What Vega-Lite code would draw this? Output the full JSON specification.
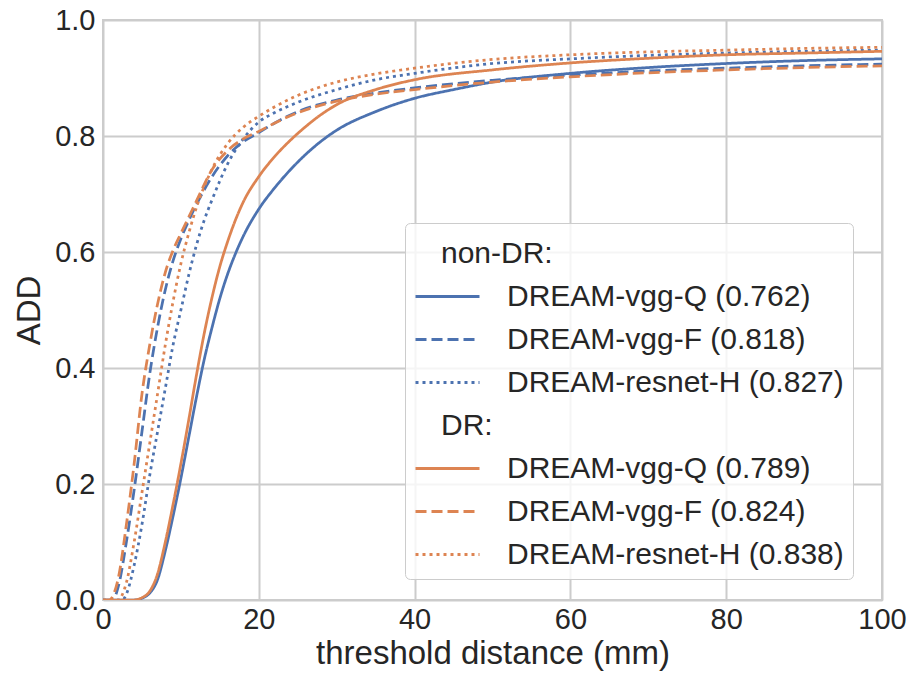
{
  "$schema": "https://vega.github.io/schema/vega-lite/v6.json",
  "autosize": "none",
  "width": 779,
  "height": 580,
  "padding": {"left": 103, "top": 20, "right": 27, "bottom": 75},
  "background": "white",
  "config": {
    "font": "Liberation Sans",
    "view": {"stroke": "#cccccc", "strokeWidth": 2},
    "axis": {"labelColor": "#262626", "titleColor": "#262626", "labelFont": "Liberation Sans", "titleFont": "Liberation Sans", "titleFontWeight": "normal", "grid": true, "gridColor": "#cccccc", "gridWidth": 2, "domain": false, "ticks": false, "labelFontSize": 29, "titleFontSize": 33, "labelOverlap": false, "labelFlush": false}
  },
  "data": {"values": [
    {"series": "DREAM-vgg-Q (0.762)", "x": 0, "y": 0},
    {"series": "DREAM-vgg-Q (0.762)", "x": 4, "y": 0},
    {"series": "DREAM-vgg-Q (0.762)", "x": 5, "y": 0.003},
    {"series": "DREAM-vgg-Q (0.762)", "x": 6, "y": 0.012},
    {"series": "DREAM-vgg-Q (0.762)", "x": 7, "y": 0.035},
    {"series": "DREAM-vgg-Q (0.762)", "x": 8, "y": 0.085},
    {"series": "DREAM-vgg-Q (0.762)", "x": 9, "y": 0.145},
    {"series": "DREAM-vgg-Q (0.762)", "x": 10, "y": 0.21},
    {"series": "DREAM-vgg-Q (0.762)", "x": 11, "y": 0.28},
    {"series": "DREAM-vgg-Q (0.762)", "x": 12, "y": 0.35},
    {"series": "DREAM-vgg-Q (0.762)", "x": 13, "y": 0.415},
    {"series": "DREAM-vgg-Q (0.762)", "x": 14, "y": 0.47},
    {"series": "DREAM-vgg-Q (0.762)", "x": 15, "y": 0.52},
    {"series": "DREAM-vgg-Q (0.762)", "x": 16, "y": 0.562},
    {"series": "DREAM-vgg-Q (0.762)", "x": 17, "y": 0.597},
    {"series": "DREAM-vgg-Q (0.762)", "x": 18, "y": 0.627},
    {"series": "DREAM-vgg-Q (0.762)", "x": 20, "y": 0.674},
    {"series": "DREAM-vgg-Q (0.762)", "x": 22, "y": 0.71},
    {"series": "DREAM-vgg-Q (0.762)", "x": 24, "y": 0.741},
    {"series": "DREAM-vgg-Q (0.762)", "x": 26, "y": 0.768},
    {"series": "DREAM-vgg-Q (0.762)", "x": 28, "y": 0.791},
    {"series": "DREAM-vgg-Q (0.762)", "x": 30, "y": 0.81},
    {"series": "DREAM-vgg-Q (0.762)", "x": 35, "y": 0.842},
    {"series": "DREAM-vgg-Q (0.762)", "x": 40, "y": 0.865},
    {"series": "DREAM-vgg-Q (0.762)", "x": 45, "y": 0.88},
    {"series": "DREAM-vgg-Q (0.762)", "x": 50, "y": 0.893},
    {"series": "DREAM-vgg-Q (0.762)", "x": 60, "y": 0.908},
    {"series": "DREAM-vgg-Q (0.762)", "x": 70, "y": 0.918},
    {"series": "DREAM-vgg-Q (0.762)", "x": 80, "y": 0.925},
    {"series": "DREAM-vgg-Q (0.762)", "x": 90, "y": 0.93},
    {"series": "DREAM-vgg-Q (0.762)", "x": 100, "y": 0.933},

    {"series": "DREAM-vgg-F (0.818)", "x": 0, "y": 0},
    {"series": "DREAM-vgg-F (0.818)", "x": 1, "y": 0},
    {"series": "DREAM-vgg-F (0.818)", "x": 1.5, "y": 0.005},
    {"series": "DREAM-vgg-F (0.818)", "x": 2, "y": 0.025},
    {"series": "DREAM-vgg-F (0.818)", "x": 3, "y": 0.1},
    {"series": "DREAM-vgg-F (0.818)", "x": 4, "y": 0.19},
    {"series": "DREAM-vgg-F (0.818)", "x": 5, "y": 0.29},
    {"series": "DREAM-vgg-F (0.818)", "x": 6, "y": 0.39},
    {"series": "DREAM-vgg-F (0.818)", "x": 7, "y": 0.47},
    {"series": "DREAM-vgg-F (0.818)", "x": 8, "y": 0.535},
    {"series": "DREAM-vgg-F (0.818)", "x": 9, "y": 0.585},
    {"series": "DREAM-vgg-F (0.818)", "x": 10, "y": 0.623},
    {"series": "DREAM-vgg-F (0.818)", "x": 11, "y": 0.654},
    {"series": "DREAM-vgg-F (0.818)", "x": 12, "y": 0.682},
    {"series": "DREAM-vgg-F (0.818)", "x": 14, "y": 0.73},
    {"series": "DREAM-vgg-F (0.818)", "x": 16, "y": 0.766},
    {"series": "DREAM-vgg-F (0.818)", "x": 18, "y": 0.79},
    {"series": "DREAM-vgg-F (0.818)", "x": 20, "y": 0.806},
    {"series": "DREAM-vgg-F (0.818)", "x": 22, "y": 0.822},
    {"series": "DREAM-vgg-F (0.818)", "x": 25, "y": 0.842},
    {"series": "DREAM-vgg-F (0.818)", "x": 30, "y": 0.862},
    {"series": "DREAM-vgg-F (0.818)", "x": 35, "y": 0.874},
    {"series": "DREAM-vgg-F (0.818)", "x": 40, "y": 0.883},
    {"series": "DREAM-vgg-F (0.818)", "x": 50, "y": 0.896},
    {"series": "DREAM-vgg-F (0.818)", "x": 60, "y": 0.905},
    {"series": "DREAM-vgg-F (0.818)", "x": 70, "y": 0.912},
    {"series": "DREAM-vgg-F (0.818)", "x": 80, "y": 0.917},
    {"series": "DREAM-vgg-F (0.818)", "x": 90, "y": 0.921},
    {"series": "DREAM-vgg-F (0.818)", "x": 100, "y": 0.924},

    {"series": "DREAM-resnet-H (0.827)", "x": 0, "y": 0},
    {"series": "DREAM-resnet-H (0.827)", "x": 2.5, "y": 0},
    {"series": "DREAM-resnet-H (0.827)", "x": 3, "y": 0.01},
    {"series": "DREAM-resnet-H (0.827)", "x": 4, "y": 0.06},
    {"series": "DREAM-resnet-H (0.827)", "x": 5, "y": 0.13},
    {"series": "DREAM-resnet-H (0.827)", "x": 6, "y": 0.215},
    {"series": "DREAM-resnet-H (0.827)", "x": 7, "y": 0.29},
    {"series": "DREAM-resnet-H (0.827)", "x": 8, "y": 0.365},
    {"series": "DREAM-resnet-H (0.827)", "x": 9, "y": 0.44},
    {"series": "DREAM-resnet-H (0.827)", "x": 10, "y": 0.5},
    {"series": "DREAM-resnet-H (0.827)", "x": 11, "y": 0.56},
    {"series": "DREAM-resnet-H (0.827)", "x": 12, "y": 0.612},
    {"series": "DREAM-resnet-H (0.827)", "x": 13, "y": 0.655},
    {"series": "DREAM-resnet-H (0.827)", "x": 14, "y": 0.69},
    {"series": "DREAM-resnet-H (0.827)", "x": 16, "y": 0.752},
    {"series": "DREAM-resnet-H (0.827)", "x": 18, "y": 0.795},
    {"series": "DREAM-resnet-H (0.827)", "x": 20, "y": 0.824},
    {"series": "DREAM-resnet-H (0.827)", "x": 22, "y": 0.84},
    {"series": "DREAM-resnet-H (0.827)", "x": 25, "y": 0.858},
    {"series": "DREAM-resnet-H (0.827)", "x": 30, "y": 0.88},
    {"series": "DREAM-resnet-H (0.827)", "x": 35, "y": 0.897},
    {"series": "DREAM-resnet-H (0.827)", "x": 40, "y": 0.908},
    {"series": "DREAM-resnet-H (0.827)", "x": 50, "y": 0.925},
    {"series": "DREAM-resnet-H (0.827)", "x": 60, "y": 0.933},
    {"series": "DREAM-resnet-H (0.827)", "x": 70, "y": 0.939},
    {"series": "DREAM-resnet-H (0.827)", "x": 80, "y": 0.943},
    {"series": "DREAM-resnet-H (0.827)", "x": 90, "y": 0.946},
    {"series": "DREAM-resnet-H (0.827)", "x": 100, "y": 0.948},

    {"series": "DREAM-vgg-Q (0.789)", "x": 0, "y": 0},
    {"series": "DREAM-vgg-Q (0.789)", "x": 4, "y": 0},
    {"series": "DREAM-vgg-Q (0.789)", "x": 5, "y": 0.004},
    {"series": "DREAM-vgg-Q (0.789)", "x": 6, "y": 0.015},
    {"series": "DREAM-vgg-Q (0.789)", "x": 7, "y": 0.045},
    {"series": "DREAM-vgg-Q (0.789)", "x": 8, "y": 0.1},
    {"series": "DREAM-vgg-Q (0.789)", "x": 9, "y": 0.165},
    {"series": "DREAM-vgg-Q (0.789)", "x": 10, "y": 0.235},
    {"series": "DREAM-vgg-Q (0.789)", "x": 11, "y": 0.31},
    {"series": "DREAM-vgg-Q (0.789)", "x": 12, "y": 0.388},
    {"series": "DREAM-vgg-Q (0.789)", "x": 13, "y": 0.46},
    {"series": "DREAM-vgg-Q (0.789)", "x": 14, "y": 0.522},
    {"series": "DREAM-vgg-Q (0.789)", "x": 15, "y": 0.575},
    {"series": "DREAM-vgg-Q (0.789)", "x": 16, "y": 0.618},
    {"series": "DREAM-vgg-Q (0.789)", "x": 17, "y": 0.655},
    {"series": "DREAM-vgg-Q (0.789)", "x": 18, "y": 0.686},
    {"series": "DREAM-vgg-Q (0.789)", "x": 20, "y": 0.73},
    {"series": "DREAM-vgg-Q (0.789)", "x": 22, "y": 0.764},
    {"series": "DREAM-vgg-Q (0.789)", "x": 24, "y": 0.792},
    {"series": "DREAM-vgg-Q (0.789)", "x": 26, "y": 0.816},
    {"series": "DREAM-vgg-Q (0.789)", "x": 28, "y": 0.837},
    {"series": "DREAM-vgg-Q (0.789)", "x": 30, "y": 0.854},
    {"series": "DREAM-vgg-Q (0.789)", "x": 35, "y": 0.88},
    {"series": "DREAM-vgg-Q (0.789)", "x": 40, "y": 0.897},
    {"series": "DREAM-vgg-Q (0.789)", "x": 50, "y": 0.914},
    {"series": "DREAM-vgg-Q (0.789)", "x": 60, "y": 0.926},
    {"series": "DREAM-vgg-Q (0.789)", "x": 70, "y": 0.934},
    {"series": "DREAM-vgg-Q (0.789)", "x": 80, "y": 0.94},
    {"series": "DREAM-vgg-Q (0.789)", "x": 90, "y": 0.943},
    {"series": "DREAM-vgg-Q (0.789)", "x": 100, "y": 0.946},

    {"series": "DREAM-vgg-F (0.824)", "x": 0, "y": 0},
    {"series": "DREAM-vgg-F (0.824)", "x": 0.8, "y": 0},
    {"series": "DREAM-vgg-F (0.824)", "x": 1.3, "y": 0.008},
    {"series": "DREAM-vgg-F (0.824)", "x": 2, "y": 0.04},
    {"series": "DREAM-vgg-F (0.824)", "x": 3, "y": 0.13},
    {"series": "DREAM-vgg-F (0.824)", "x": 4, "y": 0.235},
    {"series": "DREAM-vgg-F (0.824)", "x": 5, "y": 0.355},
    {"series": "DREAM-vgg-F (0.824)", "x": 6, "y": 0.44},
    {"series": "DREAM-vgg-F (0.824)", "x": 7, "y": 0.51},
    {"series": "DREAM-vgg-F (0.824)", "x": 8, "y": 0.565},
    {"series": "DREAM-vgg-F (0.824)", "x": 9, "y": 0.603},
    {"series": "DREAM-vgg-F (0.824)", "x": 10, "y": 0.632},
    {"series": "DREAM-vgg-F (0.824)", "x": 11, "y": 0.66},
    {"series": "DREAM-vgg-F (0.824)", "x": 12, "y": 0.688},
    {"series": "DREAM-vgg-F (0.824)", "x": 14, "y": 0.742},
    {"series": "DREAM-vgg-F (0.824)", "x": 16, "y": 0.775},
    {"series": "DREAM-vgg-F (0.824)", "x": 18, "y": 0.795},
    {"series": "DREAM-vgg-F (0.824)", "x": 20, "y": 0.808},
    {"series": "DREAM-vgg-F (0.824)", "x": 22, "y": 0.822},
    {"series": "DREAM-vgg-F (0.824)", "x": 25, "y": 0.84},
    {"series": "DREAM-vgg-F (0.824)", "x": 30, "y": 0.86},
    {"series": "DREAM-vgg-F (0.824)", "x": 35, "y": 0.872},
    {"series": "DREAM-vgg-F (0.824)", "x": 40, "y": 0.88},
    {"series": "DREAM-vgg-F (0.824)", "x": 50, "y": 0.893},
    {"series": "DREAM-vgg-F (0.824)", "x": 60, "y": 0.902},
    {"series": "DREAM-vgg-F (0.824)", "x": 70, "y": 0.909},
    {"series": "DREAM-vgg-F (0.824)", "x": 80, "y": 0.914},
    {"series": "DREAM-vgg-F (0.824)", "x": 90, "y": 0.918},
    {"series": "DREAM-vgg-F (0.824)", "x": 100, "y": 0.921},

    {"series": "DREAM-resnet-H (0.838)", "x": 0, "y": 0},
    {"series": "DREAM-resnet-H (0.838)", "x": 2, "y": 0},
    {"series": "DREAM-resnet-H (0.838)", "x": 2.5, "y": 0.01},
    {"series": "DREAM-resnet-H (0.838)", "x": 3, "y": 0.03},
    {"series": "DREAM-resnet-H (0.838)", "x": 4, "y": 0.1},
    {"series": "DREAM-resnet-H (0.838)", "x": 5, "y": 0.185},
    {"series": "DREAM-resnet-H (0.838)", "x": 6, "y": 0.27},
    {"series": "DREAM-resnet-H (0.838)", "x": 7, "y": 0.355},
    {"series": "DREAM-resnet-H (0.838)", "x": 8, "y": 0.44},
    {"series": "DREAM-resnet-H (0.838)", "x": 9, "y": 0.515},
    {"series": "DREAM-resnet-H (0.838)", "x": 10, "y": 0.58},
    {"series": "DREAM-resnet-H (0.838)", "x": 11, "y": 0.632},
    {"series": "DREAM-resnet-H (0.838)", "x": 12, "y": 0.677},
    {"series": "DREAM-resnet-H (0.838)", "x": 13, "y": 0.713},
    {"series": "DREAM-resnet-H (0.838)", "x": 14, "y": 0.743},
    {"series": "DREAM-resnet-H (0.838)", "x": 16, "y": 0.787},
    {"series": "DREAM-resnet-H (0.838)", "x": 18, "y": 0.815},
    {"series": "DREAM-resnet-H (0.838)", "x": 20, "y": 0.834},
    {"series": "DREAM-resnet-H (0.838)", "x": 22, "y": 0.85},
    {"series": "DREAM-resnet-H (0.838)", "x": 25, "y": 0.87},
    {"series": "DREAM-resnet-H (0.838)", "x": 30, "y": 0.893},
    {"series": "DREAM-resnet-H (0.838)", "x": 35, "y": 0.907},
    {"series": "DREAM-resnet-H (0.838)", "x": 40, "y": 0.917},
    {"series": "DREAM-resnet-H (0.838)", "x": 50, "y": 0.932},
    {"series": "DREAM-resnet-H (0.838)", "x": 60, "y": 0.94},
    {"series": "DREAM-resnet-H (0.838)", "x": 70, "y": 0.945},
    {"series": "DREAM-resnet-H (0.838)", "x": 80, "y": 0.948},
    {"series": "DREAM-resnet-H (0.838)", "x": 90, "y": 0.951},
    {"series": "DREAM-resnet-H (0.838)", "x": 100, "y": 0.953}
  ]},
  "mark": {"type": "line", "strokeWidth": 2.75, "clip": true, "interpolate": "monotone"},
  "encoding": {
    "x": {"field": "x", "type": "quantitative", "scale": {"domain": [0, 100], "nice": false, "zero": false},
      "axis": {"title": "threshold distance (mm)", "values": [0, 20, 40, 60, 80, 100], "format": "d", "labelPadding": 5, "titlePadding": 3}},
    "y": {"field": "y", "type": "quantitative", "scale": {"domain": [0, 1], "nice": false},
      "axis": {"title": "ADD", "values": [0, 0.2, 0.4, 0.6, 0.8, 1.0], "format": ".1f", "labelPadding": 8, "titlePadding": 8}},
    "color": {"field": "series", "type": "nominal",
      "scale": {
        "domain": ["non-DR:", "DREAM-vgg-Q (0.762)", "DREAM-vgg-F (0.818)", "DREAM-resnet-H (0.827)", "DR:", "DREAM-vgg-Q (0.789)", "DREAM-vgg-F (0.824)", "DREAM-resnet-H (0.838)"],
        "range": ["transparent", "#4c72b0", "#4c72b0", "#4c72b0", "transparent", "#dd8452", "#dd8452", "#dd8452"]
      },
      "legend": {
        "title": null,
        "orient": "none",
        "legendX": 302,
        "legendY": 203,
        "fillColor": "rgba(255,255,255,0.8)",
        "strokeColor": "#cccccc",
        "cornerRadius": 5,
        "padding": 9,
        "symbolType": "M-1.6,0H1.6",
        "symbolSize": 1600,
        "symbolStrokeWidth": 3,
        "symbolOffset": 12,
        "labelOffset": 38,
        "labelFont": "Liberation Sans",
        "labelFontSize": 30,
        "labelColor": "#262626",
        "labelLimit": 600,
        "rowPadding": 6,
        "encode": {"labels": {"update": {"dx": {"signal": "datum.value === 'non-DR:' || datum.value === 'DR:' ? -66 : 0"}}}}
      }
    },
    "strokeDash": {"field": "series", "type": "nominal",
      "scale": {
        "domain": ["non-DR:", "DREAM-vgg-Q (0.762)", "DREAM-vgg-F (0.818)", "DREAM-resnet-H (0.827)", "DR:", "DREAM-vgg-Q (0.789)", "DREAM-vgg-F (0.824)", "DREAM-resnet-H (0.838)"],
        "range": [[1, 0], [1, 0], [11, 5], [3, 4], [1, 0], [1, 0], [11, 5], [3, 4]]
      }
    }
  }
}
